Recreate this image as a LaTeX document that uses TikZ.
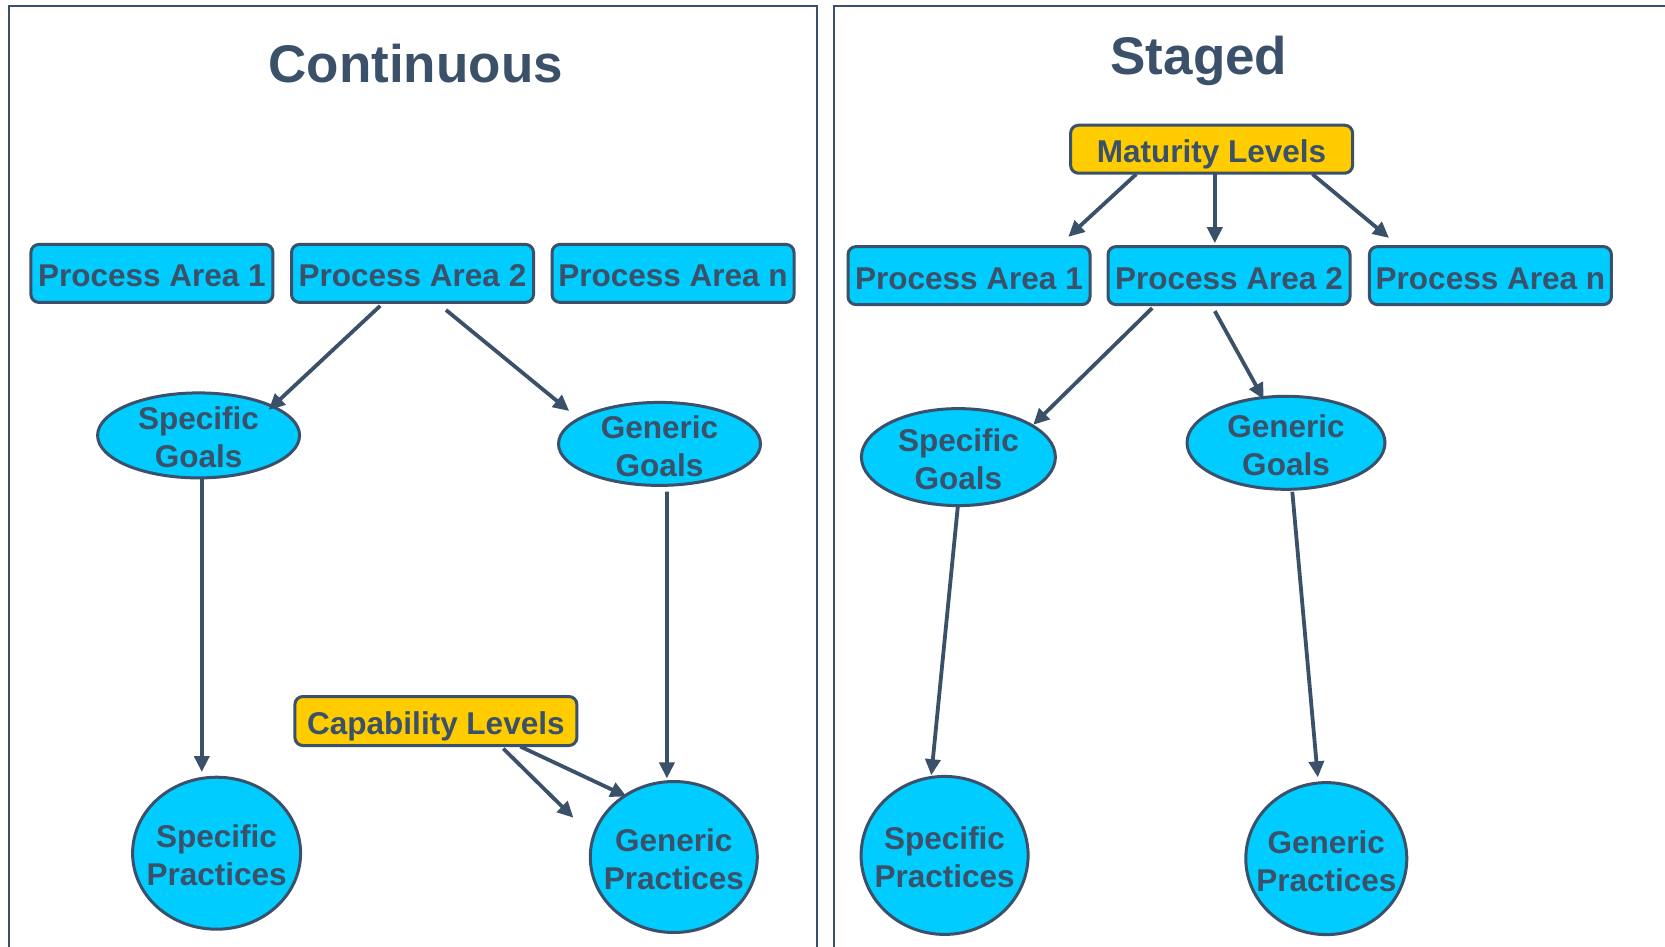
\documentclass[tikz,border=0pt]{standalone}
\usepackage{fontspec}
\setmainfont{Liberation Sans}
\usetikzlibrary{shapes.geometric,arrows.meta,calc}
\definecolor{ink}{RGB}{58,81,105}
\definecolor{cyanfill}{RGB}{0,204,255}
\definecolor{goldfill}{RGB}{255,204,0}

\begin{document}
\begin{tikzpicture}[x=1pt,y=-1pt,
  every node/.style={text=ink, font=\bfseries\fontsize{31.5}{38}\selectfont},
  pabox/.style={draw=ink, line width=3pt, fill=cyanfill, rounded corners=8pt,
    minimum width=242pt, minimum height=58pt, inner sep=0pt,
    text height=27pt, text depth=0pt},
  lvlbox/.style={pabox, fill=goldfill, minimum width=282pt, minimum height=48pt},
  goal/.style={draw=ink, line width=3pt, fill=cyanfill, ellipse, align=center,
    inner xsep=-25pt, inner ysep=-5pt, text height=65pt, text depth=0pt},
  title/.style={font=\bfseries\fontsize{53}{60}\selectfont, anchor=base},
  panel/.style={draw=ink, line width=2pt},
  arr/.style={draw=ink, line width=3.8pt, -{Triangle[length=16pt,width=15pt]}}
]
\clip (0,0) rectangle (1665,946);
\fill[white] (0,0) rectangle (1665,946);

% panels
\draw[panel] (8.5,960) -- (8.5,6.4) -- (816.6,6.4) -- (816.6,960);
\draw[panel] (833.6,960) -- (833.6,6.4) -- (1700,6.4);

% titles
\node[title] (tcont) at (415.7,82) {Continuous};
\node[title] (tstag) at (1198.9,74) {Staged};

% continuous representation
\node[pabox] (lpa1) at (151.9,273.4) {Process Area 1};
\node[pabox] (lpa2) at (412.5,273.4) {Process Area 2};
\node[pabox] (lpan) at (673,273.4) {Process Area n};
\node[goal, minimum width=202pt, minimum height=85pt] (lsg) at (198.6,435.4) {Specific\\Goals};
\node[goal, minimum width=202pt, minimum height=83pt] (lgg) at (659.5,443.9) {Generic\\Goals};
\node[goal, minimum width=168pt, minimum height=152pt] (lsp) at (216.6,853.2) {Specific\\Practices};
\node[goal, minimum width=167pt, minimum height=151pt] (lgp) at (673.8,857) {Generic\\Practices};
\node[lvlbox, minimum height=49pt] (cl) at (435.9,721) {Capability Levels};
\coordinate (clfree) at (573.4,817.7);

\draw[arr] ($(lpa2.center)+(-32.3,32.4)$) -- ($(lsg.center)+(70.1,-25.5)$);
\draw[arr] ($(lpa2.center)+(33.5,36.6)$) -- ($(lgg.center)+(-90.3,-32.9)$);
\draw[arr] ($(lsg.center)+(3.2,43.5)$) -- ($(lsp.center)+(-14.8,-81.2)$);
\draw[arr] ($(lgg.center)+(7.4,47.8)$) -- ($(lgp.center)+(-6.9,-78.6)$);
\draw[arr] ($(cl.center)+(84.4,25.5)$) -- ($(lgp.center)+(-47.3,-60.6)$);
\draw[arr] ($(cl.center)+(67.4,27.6)$) -- (clfree);

% staged representation
\node[lvlbox] (ml) at (1211.6,149.2) {Maturity Levels};
\node[pabox] (rpa1) at (969,275.6) {Process Area 1};
\node[pabox] (rpa2) at (1229,275.6) {Process Area 2};
\node[pabox] (rpan) at (1490.4,275.6) {Process Area n};
\node[goal, minimum width=194pt, minimum height=97pt] (rsg) at (958.4,457.1) {Specific\\Goals};
\node[goal, minimum width=198pt, minimum height=93pt] (rgg) at (1286,442.8) {Generic\\Goals};
\node[goal, minimum width=167pt, minimum height=158pt] (rsp) at (944.6,855.4) {Specific\\Practices};
\node[goal, minimum width=161pt, minimum height=152pt] (rgp) at (1326.3,858.6) {Generic\\Practices};

\draw[arr] ($(ml.center)+(-75.4,25)$) -- ($(rpa1.center)+(99.3,-38.8)$);
\draw[arr] ($(ml.center)+(3.2,25)$) -- ($(rpa2.center)+(-14.2,-32.4)$);
\draw[arr] ($(ml.center)+(100.9,25)$) -- ($(rpan.center)+(-101.4,-37.7)$);
\draw[arr] ($(rpa2.center)+(-76.8,32.4)$) -- ($(rsg.center)+(74.8,-32.3)$);
\draw[arr] ($(rpa2.center)+(-14.2,35.5)$) -- ($(rgg.center)+(-22.3,-43.5)$);
\draw[arr] ($(rsg.center)+(-0.6,49.4)$) -- ($(rsp.center)+(-13.3,-80.2)$);
\draw[arr] ($(rgg.center)+(6.3,48.9)$) -- ($(rgp.center)+(-8.5,-81.3)$);
\end{tikzpicture}
\end{document}
